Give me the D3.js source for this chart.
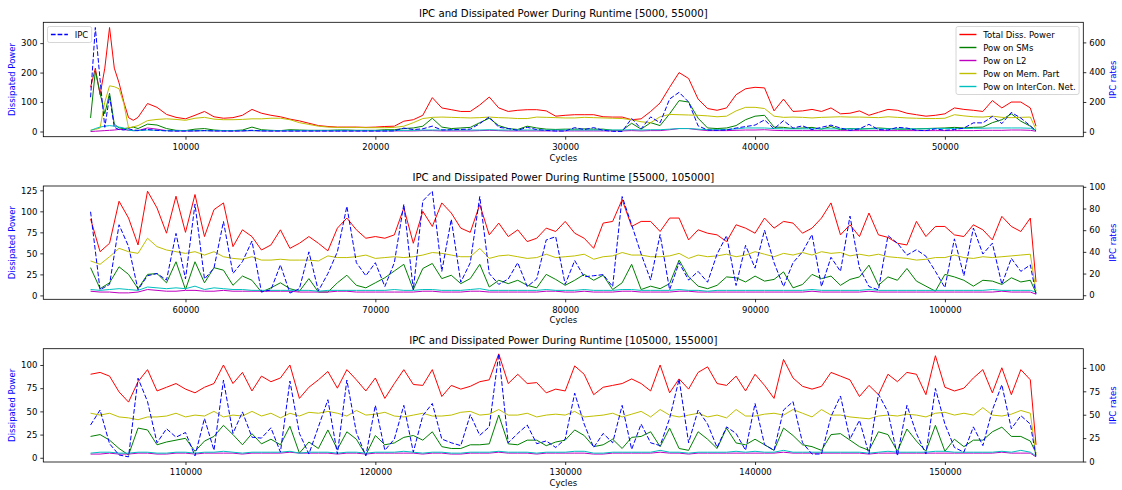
<!DOCTYPE html>
<html>
<head>
<meta charset="utf-8">
<script src="https://cdn.jsdelivr.net/npm/d3@7"></script>
<style>
  body { margin: 0; background: #fff; }
  svg { display: block; font-family: "DejaVu Sans", sans-serif; }
</style>
</head>
<body>
<svg id="chart" width="1122" height="490"></svg>
<script>
// sampled cycles for each runtime window
const cyclesA = d3.range(5000, 7501, 250).concat(d3.range(8000, 54501, 500), [54800]);
const cyclesB = d3.range(55000, 104501, 500).concat([104800]);
const cyclesC = d3.range(105000, 154501, 500).concat([154800]);

// window [5000, 55000]
const totalA = [
  150, 215, 125, 215, 353, 215, 165, 100, 47, 38, 48,
  95, 82, 58, 48, 43, 55, 68, 50, 45, 47,
  55, 75, 62, 55, 50, 42, 36, 28, 20, 17,
  15, 15, 15, 14, 15, 17, 18, 35, 40, 55,
  115, 80, 74, 68, 68, 90, 117, 80, 68, 72,
  74, 74, 70, 52, 55, 57, 57, 57, 50, 49,
  49, 40, 43, 68, 97, 150, 200, 180, 110, 78,
  72, 80, 125, 145, 150, 148, 70, 110, 68, 70,
  75, 68, 80, 60, 62, 70, 55, 65, 75, 72,
  62, 57, 52, 55, 60, 80, 75, 72, 68, 105,
  80, 100, 100, 80, 18
];
const smA = [
  46, 205, 130, 60, 130, 25, 12, 10, 12, 15, 10,
  25, 22, 10, 4, 3, 8, 10, 5, 3, 3,
  5, 15, 6, 4, 3, 6, 5, 4, 4, 4,
  5, 5, 4, 4, 4, 6, 6, 10, 12, 18,
  45, 15, 10, 12, 14, 30, 45, 20, 10, 7,
  18, 12, 8, 7, 8, 8, 9, 8, 8, 4,
  4, 28, 8, 30, 20, 60, 105, 100, 45, 12,
  10, 12, 20, 40, 52, 55, 15, 14, 10, 12,
  14, 8, 17, 6, 10, 8, 10, 12, 10, 8,
  8, 9, 10, 11, 12, 14, 12, 14, 15, 30,
  40, 60, 35, 18, 3
];
const l2A = [
  0, 1, 2, 3, 4, 5, 7, 7, 4, 3, 3,
  12, 8, 3, 2, 2, 2, 3, 2, 2, 2,
  2, 3, 2, 2, 2, 2, 2, 2, 2, 2,
  2, 2, 2, 2, 2, 2, 2, 2, 2, 3,
  3, 2, 2, 2, 2, 3, 4, 3, 2, 2,
  2, 2, 2, 2, 2, 2, 2, 2, 2, 2,
  2, 3, 2, 3, 3, 6, 10, 10, 6, 3,
  3, 3, 4, 5, 5, 6, 4, 3, 3, 3,
  3, 3, 3, 3, 3, 3, 3, 3, 3, 3,
  3, 3, 3, 3, 3, 3, 3, 3, 4, 4,
  4, 5, 5, 4, 1
];
const memA = [
  5, 7, 12, 100, 155, 152, 145, 95, 12, 16, 20,
  37, 41, 43, 41, 38, 45, 48, 42, 40, 40,
  41, 43, 43, 45, 45, 40, 30, 24, 18, 15,
  14, 14, 14, 13, 13, 13, 14, 18, 30, 44,
  48, 49, 48, 47, 46, 47, 49, 47, 46, 44,
  44, 49, 48, 47, 46, 46, 48, 47, 46, 45,
  44, 40, 33, 30, 50, 58, 57, 56, 55, 53,
  50, 52, 70, 82, 82, 78, 52, 48, 49, 48,
  46, 48, 49, 50, 49, 49, 48, 47, 50, 48,
  46, 45, 44, 44, 45, 57, 53, 50, 49, 52,
  48, 47, 48, 49, 7
];
const netA = [
  3, 10, 15, 18, 20, 18, 15, 12, 4, 3, 3,
  5, 4, 3, 3, 3, 3, 3, 3, 3, 3,
  3, 3, 3, 3, 3, 3, 3, 3, 3, 3,
  3, 3, 3, 3, 3, 3, 3, 4, 4, 5,
  5, 5, 5, 5, 5, 5, 6, 5, 5, 5,
  5, 5, 5, 5, 5, 5, 5, 5, 5, 5,
  5, 6, 5, 6, 6, 8, 10, 10, 8, 6,
  6, 7, 9, 12, 12, 12, 10, 9, 9, 9,
  9, 9, 9, 9, 9, 9, 9, 9, 9, 9,
  9, 9, 9, 10, 10, 10, 10, 11, 11, 12,
  12, 12, 12, 11, 4
];
const ipcA = [
  232, 700, 350, 30, 240, 30, 15, 12, 20, 12, 10,
  15, 10, 6, 5, 5, 6, 8, 6, 5, 5,
  6, 10, 6, 5, 5, 5, 5, 5, 5, 5,
  5, 5, 5, 5, 5, 5, 6, 25, 15, 20,
  38, 12, 14, 16, 18, 55, 100, 30, 22, 10,
  30, 15, 9, 5, 5, 28, 15, 28, 10, 3,
  2, 90, 20, 100, 60, 220, 265, 200, 40, 12,
  10, 12, 25, 35, 45, 80, 20, 75, 25, 40,
  15, 30, 45, 25, 10, 20, 50, 15, 12, 30,
  25, 10, 8, 20, 10, 15, 25, 60, 60, 103,
  55, 130, 92, 40, 5
];

// window [55000, 105000]
const totalB = [
  91, 52, 62, 112, 92, 60, 124, 104, 74, 118,
  75, 120, 70, 102, 110, 58, 78, 70, 54, 60,
  78, 56, 62, 70, 62, 53, 80, 92, 78, 68,
  70, 68, 72, 104, 62, 100, 82, 110, 98, 80,
  75, 108, 72, 86, 70, 78, 64, 68, 80, 76,
  88, 74, 68, 56, 86, 88, 114, 82, 88, 88,
  76, 92, 92, 66, 78, 74, 72, 64, 84, 80,
  74, 92, 80, 88, 86, 74, 80, 92, 110, 72,
  84, 70, 98, 72, 69, 62, 60, 88, 70, 82,
  82, 72, 70, 84, 78, 66, 94, 82, 76, 92,
  16
];
const smB = [
  33, 8, 15, 34, 25, 8, 25, 26, 15, 40,
  7, 40, 15, 33, 30, 12, 23, 18, 4, 9,
  15, 8, 5, 20, 4, 4, 15, 24, 12, 9,
  15, 21, 29, 37, 7, 32, 38, 20, 24, 14,
  20, 37, 10, 18, 14, 18, 12, 9, 25, 19,
  12, 18, 25, 18, 24, 7, 15, 37, 7, 11,
  8, 14, 42, 22, 11, 8, 12, 22, 21, 16,
  23, 17, 19, 28, 9, 13, 25, 20, 23, 12,
  19, 22, 36, 12, 22, 18, 32, 17, 11, 5,
  25, 22, 18, 11, 18, 17, 13, 21, 16, 18,
  3
];
const l2B = [
  5, 4, 4, 3, 3, 4, 7, 6, 5, 5,
  6, 6, 5, 5, 6, 5, 5, 5, 5, 5,
  5, 5, 4, 4, 4, 4, 5, 5, 4, 4,
  4, 4, 4, 4, 4, 5, 5, 4, 4, 4,
  5, 5, 4, 4, 4, 4, 4, 4, 5, 5,
  4, 4, 5, 4, 4, 4, 5, 5, 4, 4,
  4, 4, 5, 5, 4, 4, 4, 4, 4, 4,
  4, 4, 4, 4, 4, 4, 5, 4, 4, 4,
  4, 4, 5, 4, 4, 4, 4, 4, 4, 4,
  4, 4, 4, 4, 4, 4, 5, 4, 4, 4,
  1.5
];
const memB = [
  41, 37, 46, 56, 52, 50, 68, 58, 54, 52,
  50, 52, 48, 52, 46, 44, 43, 46, 42, 42,
  43, 42, 42, 42, 41, 47, 45, 45, 46, 48,
  44, 45, 46, 45, 46, 48, 51, 50, 48, 46,
  46, 56, 44, 47, 48, 46, 44, 45, 49, 45,
  46, 47, 49, 43, 46, 47, 51, 48, 48, 46,
  46, 47, 50, 44, 48, 46, 47, 49, 46, 48,
  52, 49, 46, 50, 48, 51, 48, 52, 50, 51,
  47, 49, 47, 49, 46, 45, 44, 42, 43, 45,
  45, 48, 45, 44, 46, 45, 46, 47, 48, 49,
  5
];
const netB = [
  7, 6, 7, 8, 7, 6, 10, 9, 8, 9,
  8, 11, 7, 9, 8, 7, 7, 6, 6, 6,
  6, 6, 6, 6, 5, 6, 6, 6, 6, 6,
  6, 6, 7, 6, 6, 7, 7, 6, 6, 6,
  7, 8, 6, 6, 6, 6, 6, 6, 7, 6,
  6, 6, 7, 6, 6, 6, 7, 7, 6, 6,
  6, 6, 7, 6, 6, 5, 6, 6, 6, 6,
  6, 6, 6, 6, 6, 6, 7, 6, 6, 6,
  6, 6, 7, 6, 6, 6, 6, 6, 6, 6,
  6, 6, 6, 6, 6, 7, 6, 6, 6, 6,
  4
];
const ipcB = [
  77, 5, 10, 65, 45, 5, 18, 20, 14, 57,
  15, 84, 15, 25, 68, 20, 31, 50, 3, 5,
  28, 2, 6, 40, 4, 20, 40, 82, 30, 18,
  30, 8, 30, 84, 5, 87, 96, 22, 70, 12,
  30, 91, 20, 10, 15, 30, 8, 15, 51, 54,
  10, 32, 17, 18, 19, 8, 91, 65, 38, 14,
  56, 5, 30, 14, 22, 12, 38, 55, 9, 46,
  25, 60, 30, 8, 30, 40, 56, 8, 35, 22,
  73, 25, 8, 5, 55, 48, 37, 42, 36, 22,
  7, 52, 18, 62, 38, 48, 10, 34, 22, 28,
  1
];

// window [105000, 155000]
const totalC = [
  90, 92, 88, 71, 60, 82, 95, 72, 76, 80,
  74, 70, 76, 80, 100, 80, 92, 72, 88, 82,
  86, 100, 64, 76, 84, 93, 75, 95, 84, 72,
  86, 64, 80, 95, 79, 78, 95, 66, 78, 74,
  77, 82, 84, 112, 80, 90, 80, 81, 70, 74,
  72, 99, 90, 68, 76, 78, 80, 85, 80, 72,
  100, 70, 85, 74, 92, 98, 80, 78, 88, 72,
  90, 78, 64, 106, 86, 77, 74, 77, 92, 88,
  84, 66, 78, 68, 90, 82, 92, 90, 68, 110,
  76, 72, 75, 86, 95, 70, 97, 68, 95, 84,
  14
];
const smC = [
  23, 25, 19, 10, 3, 32, 30, 14, 17, 19,
  21, 7, 18, 23, 35, 25, 14, 26, 15, 20,
  14, 34, 5, 17, 10, 30, 9, 28, 20, 3,
  24, 14, 16, 22, 24, 19, 28, 12, 10, 10,
  14, 14, 15, 46, 15, 14, 19, 19, 13, 17,
  19, 30, 24, 12, 14, 20, 10, 22, 23, 28,
  12, 32, 10, 8, 28, 20, 10, 32, 16, 14,
  20, 14, 8, 32, 24, 14, 12, 8, 25, 26,
  19, 12, 8, 28, 25, 7, 31, 18, 7, 35,
  7, 20, 12, 19, 19, 28, 33, 23, 23, 18,
  5
];
const l2C = [
  4, 4, 5, 4, 4, 5, 5, 4, 4, 5,
  5, 4, 5, 5, 5, 5, 4, 5, 5, 5,
  5, 6, 5, 5, 5, 5, 4, 5, 5, 4,
  5, 5, 5, 5, 5, 4, 5, 5, 4, 4,
  5, 5, 5, 6, 5, 5, 5, 4, 5, 5,
  5, 5, 5, 4, 4, 5, 5, 5, 5, 5,
  6, 5, 5, 4, 5, 5, 5, 5, 5, 5,
  5, 5, 5, 6, 5, 5, 5, 5, 5, 5,
  5, 5, 4, 5, 5, 5, 5, 5, 5, 5,
  5, 5, 5, 5, 5, 5, 6, 5, 5, 5,
  1
];
const memC = [
  48, 46, 48, 44, 43, 41, 44, 44, 45, 48,
  44, 46, 45, 50, 44, 46, 45, 50, 45, 48,
  43, 48, 45, 49, 48, 50, 48, 45, 51, 46,
  47, 49, 45, 44, 46, 48, 45, 45, 46, 49,
  50, 46, 47, 52, 46, 46, 48, 44, 46, 47,
  46, 50, 44, 45, 46, 48, 44, 47, 50, 44,
  52, 46, 44, 46, 48, 44, 46, 43, 52, 45,
  45, 47, 48, 46, 52, 48, 44, 52, 46, 46,
  44, 43, 42, 45, 46, 45, 47, 46, 44, 48,
  49, 46, 48, 46, 54, 46, 45, 47, 51, 48,
  3
];
const netC = [
  5, 6, 6, 5, 5, 6, 6, 5, 5, 6,
  6, 5, 6, 6, 7, 6, 5, 6, 6, 6,
  6, 7, 5, 6, 6, 6, 5, 6, 6, 5,
  6, 6, 6, 7, 6, 5, 6, 6, 5, 5,
  6, 6, 6, 7, 6, 6, 6, 5, 6, 6,
  6, 7, 7, 5, 5, 6, 6, 6, 6, 6,
  8, 6, 6, 5, 6, 6, 6, 6, 7, 6,
  7, 6, 6, 8, 6, 6, 6, 6, 6, 6,
  6, 6, 5, 6, 7, 6, 6, 6, 6, 7,
  7, 6, 6, 6, 6, 6, 7, 6, 8, 6,
  2
];
const ipcC = [
  39, 55, 19, 7, 5, 89, 64, 20, 35, 26,
  31, 6, 46, 12, 87, 30, 53, 26, 25, 36,
  10, 86, 30, 8, 37, 66, 8, 87, 31, 6,
  60, 12, 24, 60, 10, 49, 62, 24, 20, 17,
  50, 28, 37, 115, 20, 30, 39, 19, 22, 15,
  24, 73, 40, 15, 30, 20, 60, 13, 40, 20,
  17, 46, 88, 20, 55, 40, 15, 37, 30, 12,
  62, 18, 12, 55, 64, 20, 8, 8, 48, 70,
  24, 44, 8, 72, 53, 6, 60, 30, 8, 78,
  40, 15, 10, 37, 17, 55, 82, 35, 49, 40,
  5
];

const series = [
  {key: "total", label: "Total Diss. Power", color: "#ff0000"},
  {key: "sm", label: "Pow on SMs", color: "#008000"},
  {key: "l2", label: "Pow on L2", color: "#bf00bf"},
  {key: "mem", label: "Pow on Mem. Part", color: "#bfbf00"},
  {key: "net", label: "Pow on InterCon. Net.", color: "#00bfbf"}
];

const panels = [
  {title: "IPC and Dissipated Power During Runtime [5000, 55000]",
   cycles: cyclesA, total: totalA, sm: smA, l2: l2A, mem: memA, net: netA, ipc: ipcA,
   xTicks: [10000, 20000, 30000, 40000, 50000], yTicks: [0, 100, 200, 300], ipcTicks: [0, 200, 400, 600],
   top: 22.3, bottom: 136.7, legend: true},
  {title: "IPC and Dissipated Power During Runtime [55000, 105000]",
   cycles: cyclesB, total: totalB, sm: smB, l2: l2B, mem: memB, net: netB, ipc: ipcB,
   xTicks: [60000, 70000, 80000, 90000, 100000], yTicks: [0, 25, 50, 75, 100, 125], ipcTicks: [0, 20, 40, 60, 80, 100],
   top: 186, bottom: 299.3, legend: false},
  {title: "IPC and Dissipated Power During Runtime [105000, 155000]",
   cycles: cyclesC, total: totalC, sm: smC, l2: l2C, mem: memC, net: netC, ipc: ipcC,
   xTicks: [110000, 120000, 130000, 140000, 150000], yTicks: [0, 25, 50, 75, 100], ipcTicks: [0, 25, 50, 75, 100],
   top: 348.7, bottom: 462, legend: false}
];

const plotLeft = 43.3, plotRight = 1083.3;
const FS = 8.5;
const LW = 1.0;
const svg = d3.select("#chart");

// matplotlib-like 5% margins
function padded(ext) {
  const r = ext[1] - ext[0];
  return [ext[0] - 0.05 * r, ext[1] + 0.05 * r];
}

function styleAxis(a) {
  a.select(".domain").remove();
  a.attr("font-family", null).attr("font-size", null);
  a.selectAll(".tick line").attr("stroke", "#000").attr("stroke-width", 0.8);
  a.selectAll(".tick text").attr("fill", "#000").style("font-size", FS + "px");
}

function drawLegend(g, items, side, top) {
  const pad = 3.4, handle = 17, gap = 6.8, rowH = 13;
  const lg = g.append("g");
  const box = lg.append("rect");
  const texts = items.map((it, i) => lg.append("text")
      .attr("y", top + 8 + i * rowH)
      .attr("dominant-baseline", "central")
      .style("font-size", FS + "px")
      .attr("fill", "#000")
      .text(it.label));
  const tw = d3.max(texts, t => t.node().getComputedTextLength());
  const w = pad + handle + gap + tw + pad;
  const h = 16 + rowH * (items.length - 1);
  const x0 = side === "left" ? plotLeft + 4.2 : plotRight - 4.2 - w;
  box.attr("x", x0).attr("y", top).attr("width", w).attr("height", h)
    .attr("rx", 2).attr("fill", "#fff").attr("fill-opacity", 0.8)
    .attr("stroke", "#cccccc").attr("stroke-width", 0.8);
  texts.forEach(t => t.attr("x", x0 + pad + handle + gap));
  items.forEach((it, i) => {
    lg.append("line")
      .attr("x1", x0 + pad).attr("x2", x0 + pad + handle)
      .attr("y1", top + 8 + i * rowH).attr("y2", top + 8 + i * rowH)
      .attr("stroke", it.color).attr("stroke-width", 1.4)
      .attr("stroke-dasharray", it.dash || null);
  });
}

panels.forEach(p => {
  series.concat([{key: "ipc"}]).forEach(s => {
    if (p[s.key].length !== p.cycles.length)
      throw new Error(p.title + " " + s.key + " length " + p[s.key].length + " vs " + p.cycles.length);
  });

  const g = svg.append("g");
  const x = d3.scaleLinear().domain(padded(d3.extent(p.cycles))).range([plotLeft, plotRight]);
  const y = d3.scaleLinear().domain(padded(d3.extent(series.flatMap(s => p[s.key])))).range([p.bottom, p.top]);
  const y2 = d3.scaleLinear().domain(padded(d3.extent(p.ipc))).range([p.bottom, p.top]);

  series.forEach(s => {
    g.append("path")
      .datum(p[s.key])
      .attr("fill", "none")
      .attr("stroke", s.color)
      .attr("stroke-width", LW)
      .attr("stroke-linejoin", "round")
      .attr("d", d3.line().x((d, i) => x(p.cycles[i])).y(d => y(d)));
  });

  g.append("path")
    .datum(p.ipc)
    .attr("fill", "none")
    .attr("stroke", "#0000ff")
    .attr("stroke-width", LW)
    .attr("stroke-dasharray", "4.7,2")
    .attr("d", d3.line().x((d, i) => x(p.cycles[i])).y(d => y2(d)));

  // frame
  g.append("rect")
    .attr("x", plotLeft).attr("y", p.top)
    .attr("width", plotRight - plotLeft).attr("height", p.bottom - p.top)
    .attr("fill", "none").attr("stroke", "#000").attr("stroke-width", 0.8);

  g.append("g")
    .attr("transform", `translate(0,${p.bottom})`)
    .call(d3.axisBottom(x).tickValues(p.xTicks).tickFormat(d3.format("d")).tickSize(3).tickPadding(4.3))
    .call(styleAxis);
  g.append("g")
    .attr("transform", `translate(${plotLeft},0)`)
    .call(d3.axisLeft(y).tickValues(p.yTicks).tickSize(3).tickPadding(3))
    .call(styleAxis);
  g.append("g")
    .attr("transform", `translate(${plotRight},0)`)
    .call(d3.axisRight(y2).tickValues(p.ipcTicks).tickSize(3).tickPadding(3))
    .call(styleAxis);

  const mid = (p.top + p.bottom) / 2;
  g.append("text")
    .attr("x", (plotLeft + plotRight) / 2).attr("y", p.top - 5)
    .attr("text-anchor", "middle")
    .style("font-size", "10.2px")
    .text(p.title);
  g.append("text")
    .attr("x", (plotLeft + plotRight) / 2).attr("y", p.bottom + 24)
    .attr("text-anchor", "middle")
    .style("font-size", FS + "px")
    .text("Cycles");
  g.append("text")
    .attr("transform", `translate(12,${mid}) rotate(-90)`)
    .attr("text-anchor", "middle").attr("dominant-baseline", "central")
    .attr("fill", "#0000ff")
    .style("font-size", FS + "px")
    .text("Dissipated Power");
  g.append("text")
    .attr("transform", `translate(1112.5,${mid}) rotate(-90)`)
    .attr("text-anchor", "middle").attr("dominant-baseline", "central")
    .attr("fill", "#0000ff")
    .style("font-size", FS + "px")
    .text("IPC rates");

  if (p.legend) {
    drawLegend(g, [{label: "IPC", color: "#0000ff", dash: "4.7,2"}], "left", p.top + 4.2);
    drawLegend(g, series, "right", p.top + 4.2);
  }
});
</script>
</body>
</html>
